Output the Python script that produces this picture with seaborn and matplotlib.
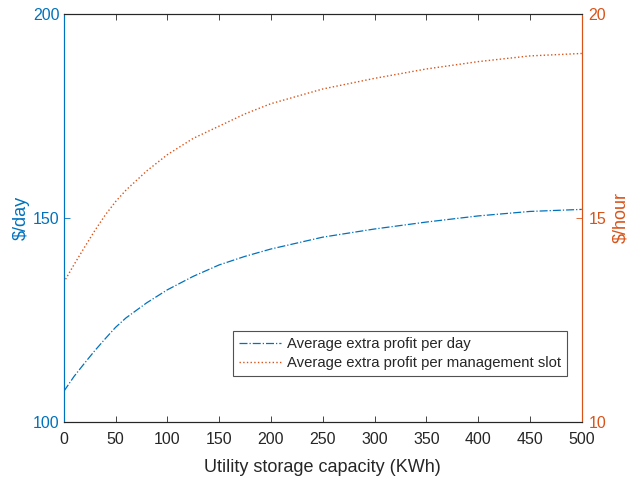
import numpy as np
import pandas as pd
import seaborn as sns
import matplotlib
matplotlib.use("Agg")
import matplotlib.pyplot as plt

# data
capacity = [0, 10, 20, 30, 40, 50, 60, 80, 100, 125, 150, 175, 200,
            250, 300, 350, 400, 450, 500]
profit_day = [107.5, 111.2, 114.4, 117.5, 120.4, 123.2, 125.5, 129.2, 132.4, 135.7,
              138.5, 140.6, 142.4, 145.3, 147.3, 149.0, 150.5, 151.6, 152.1]
profit_slot = [13.42, 13.86, 14.28, 14.69, 15.07, 15.4, 15.68, 16.15, 16.55, 16.95,
               17.25, 17.55, 17.8, 18.16, 18.42, 18.65, 18.83, 18.97, 19.03]

blue = "#0072BD"
orange = "#D95319"
dark = "#262626"

sns.set_theme(style="white")
plt.rcParams["font.family"] = ["Liberation Sans", "DejaVu Sans"]

df = pd.DataFrame({"capacity": capacity, "day": profit_day, "slot": profit_slot})

fig = plt.figure(figsize=(6.31, 4.78), dpi=100)
ax = fig.add_axes([0.101, 0.117, 0.821, 0.854])
ax2 = ax.twinx()

sns.lineplot(data=df, x="capacity", y="day", ax=ax, color=blue, linestyle="-.",
             linewidth=0.9, label="Average extra profit per day", legend=False)
sns.lineplot(data=df, x="capacity", y="slot", ax=ax2, color=orange, linestyle=":",
             linewidth=1.0, label="Average extra profit per management slot", legend=False)

ax.set_xlim(0, 500)
ax.set_ylim(100, 200)
ax2.set_ylim(10, 20)
ax.set_xticks(np.arange(0, 501, 50))
ax.set_yticks([100, 150, 200])
ax2.set_yticks([10, 15, 20])

ax.set_xlabel("Utility storage capacity (KWh)", fontsize=13, color=dark, labelpad=8)
ax.set_ylabel("\\$/day", fontsize=13, color=blue, labelpad=2)
ax2.set_ylabel("\\$/hour", fontsize=13, color=orange, labelpad=4)

ax.tick_params(axis="x", direction="in", length=4, width=0.6, colors=dark,
               labelsize=11.5, top=True, bottom=True, pad=7.5)
ax.tick_params(axis="y", direction="in", length=4, width=0.6, colors=blue,
               labelsize=11.5, left=True, right=False, pad=3)
ax2.tick_params(axis="y", direction="in", length=4, width=0.6, colors=orange,
                labelsize=11.5, right=True, left=False, pad=5)

for a in (ax, ax2):
    for s in a.spines.values():
        s.set_linewidth(0.8)
    a.spines["top"].set_color(dark)
    a.spines["bottom"].set_color(dark)
    a.spines["left"].set_color(blue)
    a.spines["right"].set_color(orange)

h1, l1 = ax.get_legend_handles_labels()
h2, l2 = ax2.get_legend_handles_labels()
leg = ax2.legend(h1 + h2, l1 + l2, loc="lower right", bbox_to_anchor=(0.971, 0.113),
                 fontsize=10.7, frameon=True, fancybox=False, edgecolor=dark,
                 borderpad=0.4, labelspacing=0.35, handlelength=2.8, handletextpad=0.4,
                 borderaxespad=0)
leg.get_frame().set_linewidth(0.8)

fig.savefig("out.png", dpi=100)
